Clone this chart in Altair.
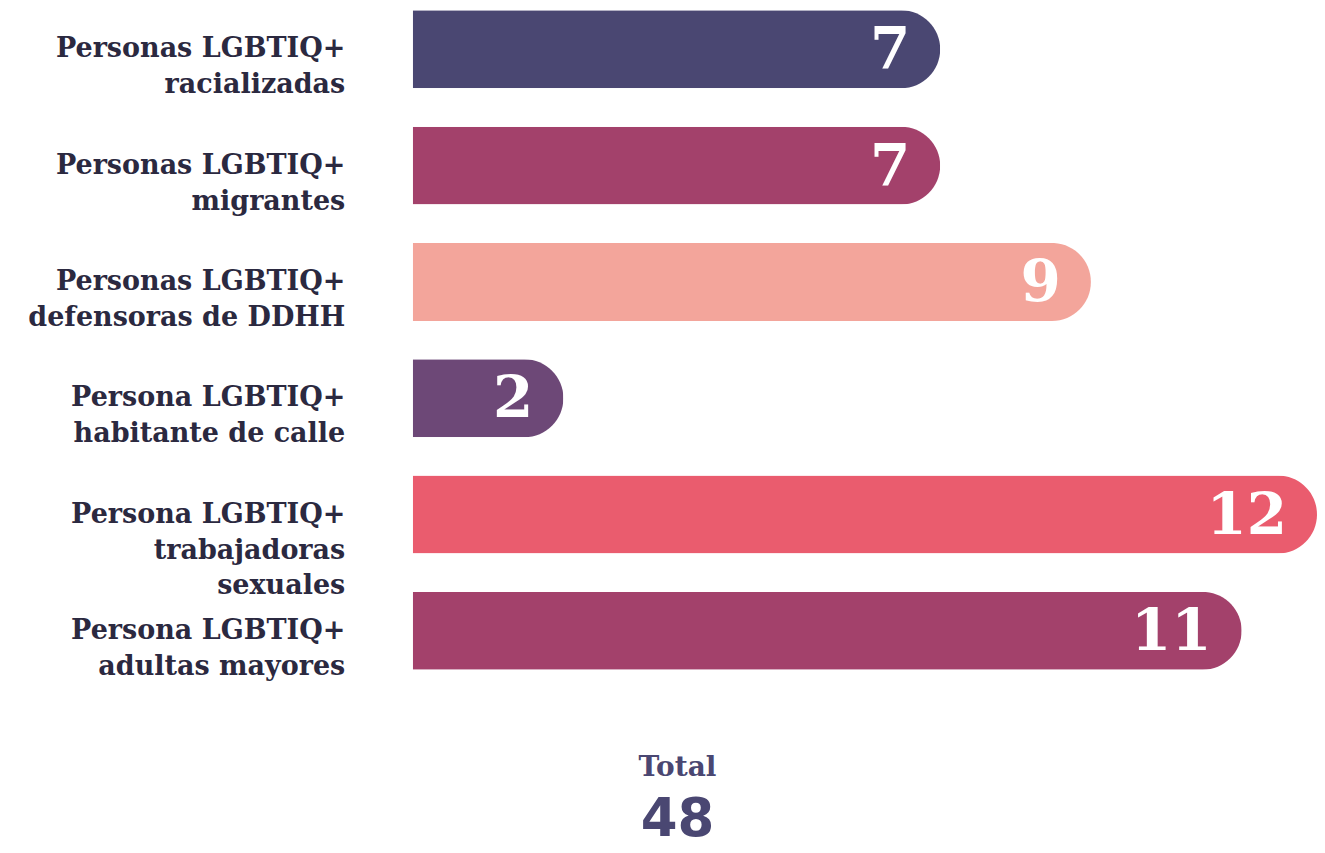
import altair as alt
import pandas as pd

categories = [
    "Personas LGBTIQ+|racializadas",
    "Personas LGBTIQ+|migrantes",
    "Personas LGBTIQ+|defensoras de DDHH",
    "Persona LGBTIQ+|habitante de calle",
    "Persona LGBTIQ+|trabajadoras|sexuales",
    "Persona LGBTIQ+|adultas mayores",
]
values = [7, 7, 9, 2, 12, 11]
colors = ["#4a4772", "#a3416b", "#f3a59b", "#6d4877", "#ea5c6e", "#a3416b"]
total_label = "Total"

df = pd.DataFrame({"category": categories, "value": values, "color": colors})

y_enc = alt.Y(
    "category:N",
    sort=categories,
    scale=alt.Scale(paddingInner=0.33, paddingOuter=0),
    axis=alt.Axis(
        title=None,
        domain=False,
        ticks=False,
        grid=False,
        labelExpr="split(datum.label, '|')",
        labelFont="DejaVu Serif",
        labelFontWeight="bold",
        labelFontSize=27,
        labelColor="#2b2940",
        labelLineHeight=36,
        labelPadding=68,
        labelAlign="right",
        labelBaseline="middle",
        labelLimit=0,
    ),
)
x_enc = alt.X("value:Q", scale=alt.Scale(domain=[0, 12], nice=False), axis=None)

bars = alt.Chart(df).mark_bar(cornerRadiusEnd=39).encode(
    x=x_enc,
    y=y_enc,
    color=alt.Color("color:N", scale=None),
)

nums = alt.Chart(df).mark_text(
    align="right", baseline="middle", dx=-30, dy=2,
    font="DejaVu Serif", fontWeight="bold", fontSize=58, color="white",
).encode(
    x=x_enc,
    y=alt.Y("category:N", sort=categories),
    text=alt.Text("value:Q"),
)

total_title = alt.Chart(df).transform_aggregate(total="sum(value)").mark_text(
    align="center", baseline="middle", font="DejaVu Serif", fontWeight="bold",
    fontSize=28, color="#4a4772",
).encode(
    x=alt.value(265), y=alt.value(758), text=alt.value(total_label)
)

total_num = alt.Chart(df).transform_aggregate(total="sum(value)").mark_text(
    align="center", baseline="middle", font="DejaVu Sans", fontWeight="bold",
    fontSize=53, color="#4a4772",
).encode(
    x=alt.value(265), y=alt.value(810), text=alt.Text("total:Q")
)

chart = alt.layer(bars, nums, total_title, total_num).properties(
    width=905,
    height=660,
    background="white",
    autosize=alt.AutoSizeParams(type="none"),
    padding={"left": 405, "top": 2, "right": 0, "bottom": 183},
).configure_view(stroke=None, strokeWidth=0)

chart.save("out.html", embed_options={"renderer": "svg", "actions": False})
